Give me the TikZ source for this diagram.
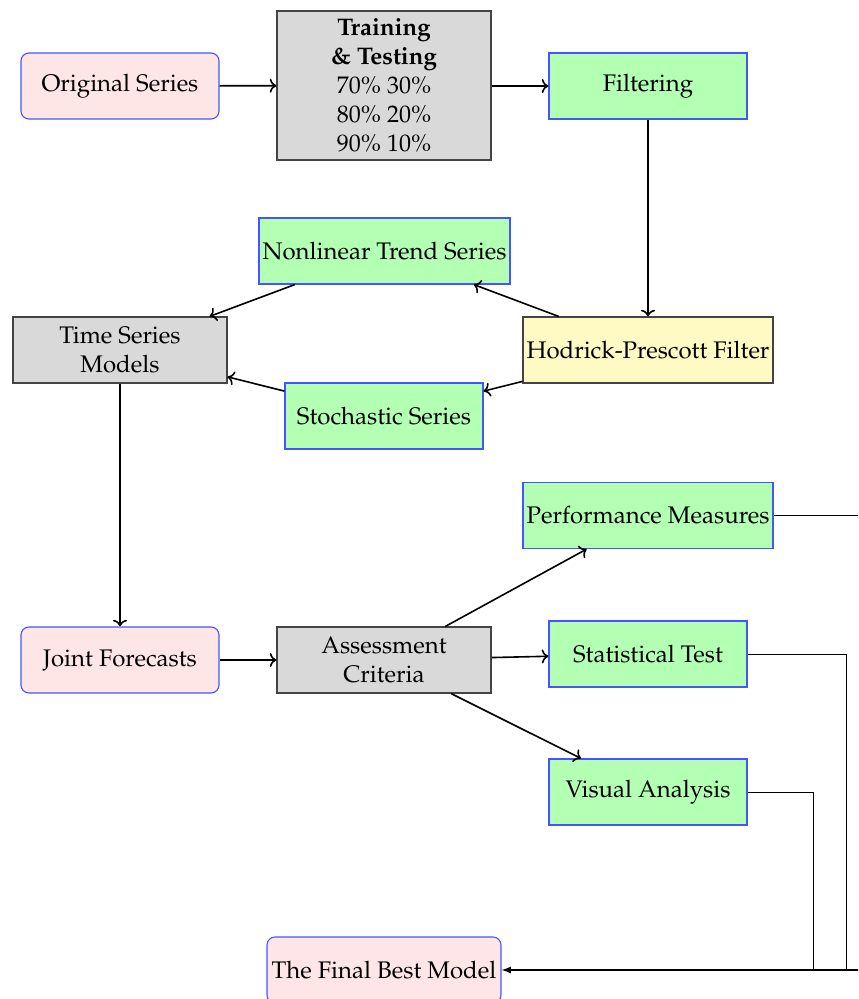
\documentclass[tikz,border=0pt,12pt]{standalone}
\usepackage[T1]{fontenc}
\usepackage{mathpazo}
\usetikzlibrary{arrows.meta}
\definecolor{pinkfill}{HTML}{FFE6E6}
\definecolor{greenfill}{HTML}{B3FFB3}
\definecolor{grayfill}{HTML}{D9D9D9}
\definecolor{yellowfill}{HTML}{FFF9C4}
\definecolor{edgegray}{HTML}{444444}
\definecolor{edgeblue}{HTML}{4455FF}
\begin{document}
\begin{tikzpicture}[x=0.5pt,y=-0.5pt,
  base/.style={inner sep=0pt,minimum height=33pt,align=center,line width=0.55pt,font=\fontsize{12}{14.5}\selectfont},
  startstop/.style={base,rectangle,rounded corners=4pt,draw=edgeblue,fill=pinkfill},
  greenbox/.style={base,rectangle,draw=edgeblue,fill=greenfill},
  graybox/.style={base,rectangle,draw=edgegray,fill=grayfill},
  yellowbox/.style={base,rectangle,draw=edgegray,fill=yellowfill},
  arr/.style={thick,->},
  feed/.style={line width=0.5pt},
  feedarr/.style={line width=0.6pt,-latex}]
\useasboundingbox (0,0) rectangle (858,999);
\clip (0,0) rectangle (858,999);
% nodes
\node[startstop,minimum width=99pt] (orig) at (120,86) {Original Series};
\node[graybox,minimum width=107pt,minimum height=74.5pt] (train) at (384,85.5) {\textbf{Training}\\\textbf{\& Testing}\\70\% 30\%\\80\% 20\%\\90\% 10\%};
\node[greenbox,minimum width=99pt] (filt) at (648,86) {Filtering};
\node[greenbox,minimum width=125.5pt] (nonlin) at (384.5,251) {Nonlinear Trend Series};
\node[graybox,minimum width=107pt] (tsm) at (120,350) {Time Series\\Models};
\node[yellowbox,minimum width=125pt] (hp) at (648,350) {Hodrick-Prescott Filter};
\node[greenbox,minimum width=99pt] (stoch) at (384,416) {Stochastic Series};
\node[greenbox,minimum width=125pt] (perf) at (648,515.5) {Performance Measures};
\node[startstop,minimum width=99pt] (joint) at (120,660) {Joint Forecasts};
\node[graybox,minimum width=107pt] (assess) at (384,660) {Assessment\\Criteria};
\node[greenbox,minimum width=99pt] (stat) at (648,654) {Statistical Test};
\node[greenbox,minimum width=99pt] (vis) at (648,792) {Visual Analysis};
\node[startstop,minimum width=117pt] (final) at (384,970) {The Final Best Model};
% coordinates for feedback lines
\coordinate (pc) at (880,970);
\coordinate (sc) at (846,970);
\coordinate (vc) at (813,970);
% connectors
\draw[arr] (orig) -- (train);
\draw[arr] (train.east |- orig.east) -- (filt.west);
\draw[arr] (filt) -- (hp);
\draw[arr] (hp) -- (nonlin);
\draw[arr] (nonlin) -- (tsm);
\draw[arr] (hp) -- (stoch);
\draw[arr] (stoch) -- (tsm);
\draw[arr] (tsm) -- (joint);
\draw[arr] (joint) -- (assess);
\draw[arr] (assess) -- (perf);
\draw[arr] (assess) -- (stat);
\draw[arr] (assess) -- (vis);
\draw[feed] (perf.east) -| (pc);
\draw[feed] (stat.east) -| (sc);
\draw[feed] (vis.east) -| (vc);
\draw[feedarr] (pc) -- (final.east);
\end{tikzpicture}
\end{document}
